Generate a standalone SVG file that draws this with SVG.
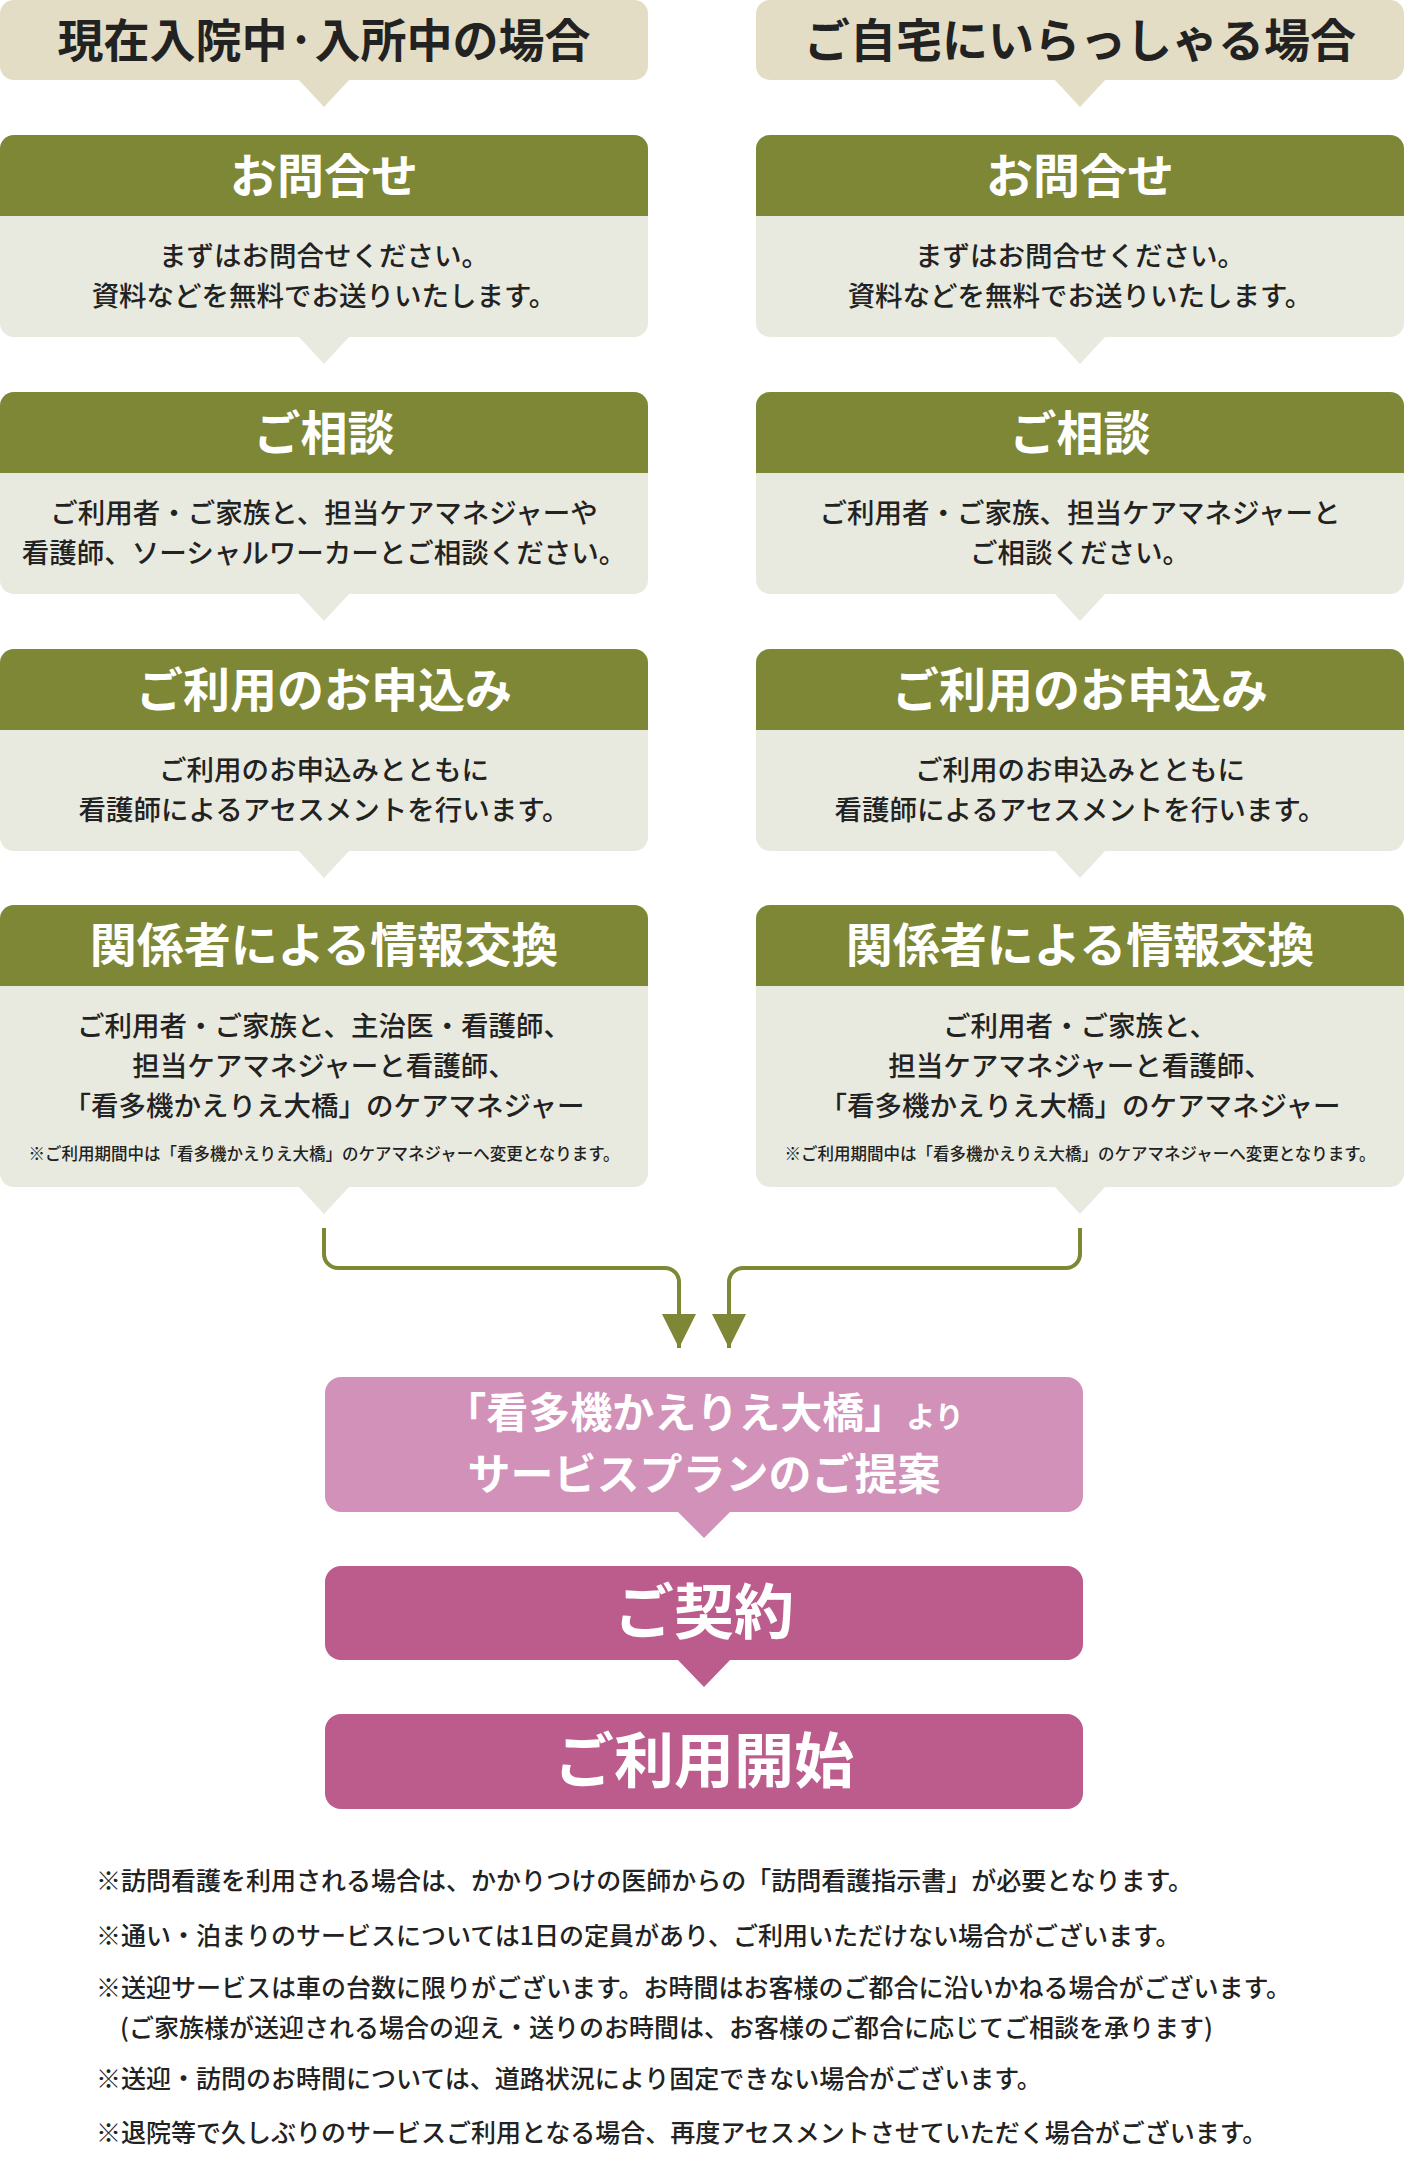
<svg xmlns="http://www.w3.org/2000/svg" width="1404" height="2160" viewBox="0 0 1404 2160">
<style>
text{font-family:"Noto Sans CJK JP","Noto Sans",sans-serif;text-anchor:middle}
.hd{fill:#e4ddc6}.gr{fill:#7d8735}.bd{fill:#e9eadf}
.h{font-size:46px;font-weight:700;fill:#222}
.t{font-size:47px;font-weight:700;fill:#fff}
.b{font-size:27.5px;font-weight:500;fill:#222}
.s{font-size:16.5px;font-weight:500;fill:#222}
.p{font-weight:700;fill:#fff}
.f{font-size:25px;font-weight:500;fill:#222;text-anchor:start}
.cn{fill:none;stroke:#7d8735;stroke-width:4}
</style>
<defs>
<marker id="ah" viewBox="0 0 10 10" refX="10" refY="5" markerWidth="34" markerHeight="34" markerUnits="userSpaceOnUse" orient="auto"><path d="M0,0L10,5L0,10Z" fill="#7d8735"/></marker>
</defs>
<g id="hdrL"><rect class="hd" x="0" y="0" width="648" height="80" rx="14"/><path class="hd" d="M298,79L350,79L324,107Z"/><text class="h" x="324" y="57">現在入院中·入所中の場合</text></g>
<g id="hdrR"><rect class="hd" x="756" y="0" width="648" height="80" rx="14"/><path class="hd" d="M1054,79L1106,79L1080,107Z"/><text class="h" x="1080" y="57">ご自宅にいらっしゃる場合</text></g>

<g id="L1"><rect class="bd" x="0" y="135" width="648" height="202" rx="14"/><path class="gr" d="M0,216V149a14,14 0 0 1 14-14H634a14,14 0 0 1 14,14V216Z"/><path class="bd" d="M298,336L350,336L324,364Z"/><text class="t" x="324" y="193">お問合せ</text><text class="b" x="324" y="266">まずはお問合せください。</text><text class="b" x="324" y="306">資料などを無料でお送りいたします。</text></g>
<g id="R1"><rect class="bd" x="756" y="135" width="648" height="202" rx="14"/><path class="gr" d="M756,216V149a14,14 0 0 1 14-14H1390a14,14 0 0 1 14,14V216Z"/><path class="bd" d="M1054,336L1106,336L1080,364Z"/><text class="t" x="1080" y="193">お問合せ</text><text class="b" x="1080" y="266">まずはお問合せください。</text><text class="b" x="1080" y="306">資料などを無料でお送りいたします。</text></g>

<g id="L2"><rect class="bd" x="0" y="392" width="648" height="202" rx="14"/><path class="gr" d="M0,473V406a14,14 0 0 1 14-14H634a14,14 0 0 1 14,14V473Z"/><path class="bd" d="M298,593L350,593L324,621Z"/><text class="t" x="324" y="450">ご相談</text><text class="b" x="324" y="523">ご利用者・ご家族と、担当ケアマネジャーや</text><text class="b" x="324" y="563">看護師、ソーシャルワーカーとご相談ください。</text></g>
<g id="R2"><rect class="bd" x="756" y="392" width="648" height="202" rx="14"/><path class="gr" d="M756,473V406a14,14 0 0 1 14-14H1390a14,14 0 0 1 14,14V473Z"/><path class="bd" d="M1054,593L1106,593L1080,621Z"/><text class="t" x="1080" y="450">ご相談</text><text class="b" x="1080" y="523">ご利用者・ご家族、担当ケアマネジャーと</text><text class="b" x="1080" y="563">ご相談ください。</text></g>

<g id="L3"><rect class="bd" x="0" y="649" width="648" height="202" rx="14"/><path class="gr" d="M0,730V663a14,14 0 0 1 14-14H634a14,14 0 0 1 14,14V730Z"/><path class="bd" d="M298,850L350,850L324,878Z"/><text class="t" x="324" y="707">ご利用のお申込み</text><text class="b" x="324" y="780">ご利用のお申込みとともに</text><text class="b" x="324" y="820">看護師によるアセスメントを行います。</text></g>
<g id="R3"><rect class="bd" x="756" y="649" width="648" height="202" rx="14"/><path class="gr" d="M756,730V663a14,14 0 0 1 14-14H1390a14,14 0 0 1 14,14V730Z"/><path class="bd" d="M1054,850L1106,850L1080,878Z"/><text class="t" x="1080" y="707">ご利用のお申込み</text><text class="b" x="1080" y="780">ご利用のお申込みとともに</text><text class="b" x="1080" y="820">看護師によるアセスメントを行います。</text></g>

<g id="L4"><rect class="bd" x="0" y="905" width="648" height="282" rx="14"/><path class="gr" d="M0,986V919a14,14 0 0 1 14-14H634a14,14 0 0 1 14,14V986Z"/><path class="bd" d="M298,1186L350,1186L324,1214Z"/><text class="t" x="324" y="962">関係者による情報交換</text><text class="b" x="324" y="1036">ご利用者・ご家族と、主治医・看護師、</text><text class="b" x="324" y="1076">担当ケアマネジャーと看護師、</text><text class="b" x="324" y="1116">「看多機かえりえ大橋」のケアマネジャー</text><text class="s" x="324" y="1160">※ご利用期間中は「看多機かえりえ大橋」のケアマネジャーへ変更となります。</text></g>
<g id="R4"><rect class="bd" x="756" y="905" width="648" height="282" rx="14"/><path class="gr" d="M756,986V919a14,14 0 0 1 14-14H1390a14,14 0 0 1 14,14V986Z"/><path class="bd" d="M1054,1186L1106,1186L1080,1214Z"/><text class="t" x="1080" y="962">関係者による情報交換</text><text class="b" x="1080" y="1036">ご利用者・ご家族と、</text><text class="b" x="1080" y="1076">担当ケアマネジャーと看護師、</text><text class="b" x="1080" y="1116">「看多機かえりえ大橋」のケアマネジャー</text><text class="s" x="1080" y="1160">※ご利用期間中は「看多機かえりえ大橋」のケアマネジャーへ変更となります。</text></g>

<g id="connectors">
<path class="cn" d="M324,1228V1254a14,14 0 0 0 14,14H665a14,14 0 0 1 14,14V1348" marker-end="url(#ah)"/>
<path class="cn" d="M1080,1228V1254a14,14 0 0 1-14,14H743a14,14 0 0 0-14,14V1348" marker-end="url(#ah)"/>
</g>

<g id="plan"><rect x="325" y="1377" width="758" height="135" rx="16" fill="#d291b9"/><path d="M677,1511L731,1511L704,1538Z" fill="#d291b9"/><text class="p" x="704" y="1428"><tspan font-size="42">「看多機かえりえ大橋」</tspan><tspan font-size="29">より</tspan></text><text class="p" x="704" y="1490" font-size="43">サービスプランのご提案</text></g>
<g id="contract"><rect x="325" y="1566" width="758" height="94" rx="16" fill="#bb5c8c"/><path d="M677,1659L731,1659L704,1687Z" fill="#bb5c8c"/><text class="p" x="704" y="1634" font-size="60">ご契約</text></g>
<g id="start"><rect x="325" y="1714" width="758" height="95" rx="16" fill="#bb5c8c"/><text class="p" x="704" y="1783" font-size="60">ご利用開始</text></g>

<g id="notes">
<text class="f" x="96" y="1890">※訪問看護を利用される場合は、かかりつけの医師からの「訪問看護指示書」が必要となります。</text>
<text class="f" x="96" y="1945">※通い・泊まりのサービスについては1日の定員があり、ご利用いただけない場合がございます。</text>
<text class="f" x="96" y="1997">※送迎サービスは車の台数に限りがございます。お時間はお客様のご都合に沿いかねる場合がございます。</text>
<text class="f" x="120" y="2037">(ご家族様が送迎される場合の迎え・送りのお時間は、お客様のご都合に応じてご相談を承ります)</text>
<text class="f" x="96" y="2088">※送迎・訪問のお時間については、道路状況により固定できない場合がございます。</text>
<text class="f" x="96" y="2142">※退院等で久しぶりのサービスご利用となる場合、再度アセスメントさせていただく場合がございます。</text>
</g>
</svg>
